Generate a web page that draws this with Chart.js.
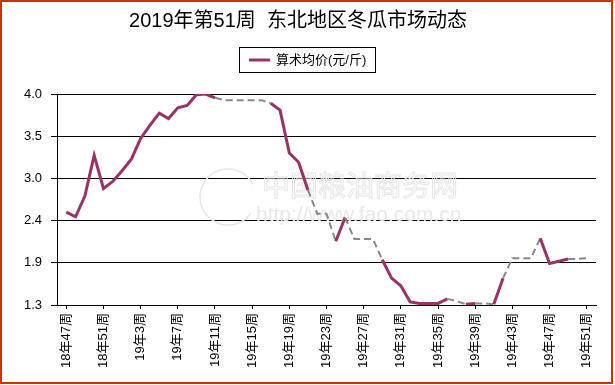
<!DOCTYPE html>
<html>
<head>
<meta charset="utf-8">
<script src="https://cdn.jsdelivr.net/npm/chart.js@4.4.0/dist/chart.umd.min.js"></script>
<style>
    html, body { margin: 0; padding: 0; background: #fff; }
    #box { width: 615px; height: 385px; }
</style>
</head>
<body>
<div id="box"><canvas id="priceChart" width="615" height="385"></canvas></div>
<script>
const weekLabels = [
    '18年47周', '18年48周', '18年49周', '18年50周', '18年51周', '18年52周',
    '19年1周', '19年2周', '19年3周', '19年4周', '19年5周', '19年6周', '19年7周', '19年8周',
    '19年9周', '19年10周', '19年11周', '19年12周', '19年13周', '19年14周', '19年15周', '19年16周',
    '19年17周', '19年18周', '19年19周', '19年20周', '19年21周', '19年22周', '19年23周', '19年24周',
    '19年25周', '19年26周', '19年27周', '19年28周', '19年29周', '19年30周', '19年31周', '19年32周',
    '19年33周', '19年34周', '19年35周', '19年36周', '19年37周', '19年38周', '19年39周', '19年40周',
    '19年41周', '19年42周', '19年43周', '19年44周', '19年45周', '19年46周', '19年47周', '19年48周',
    '19年49周', '19年50周', '19年51周'
];
const avgPrice = [
    2.51, 2.45, 2.72, 3.25, 2.82, 2.91, 3.05, 3.20, 3.47, 3.64, 3.80, 3.73, 3.87, 3.90,
    4.04, 4.05, 4.00, 3.97, 3.97, 3.97, 3.97, 3.97, 3.93, 3.84, 3.28, 3.16, 2.80, 2.49,
    2.49, 2.13, 2.44, 2.16, 2.16, 2.16, 1.89, 1.65, 1.55, 1.34, 1.32, 1.32, 1.32, 1.38,
    1.35, 1.31, 1.32, 1.32, 1.31, 1.65, 1.91, 1.91, 1.91, 2.17, 1.84, 1.87, 1.90, 1.90, 1.91
];
// weeks without a report, drawn as grey dashes
const missingWeeks = [17, 18, 19, 20, 21, 27, 28, 31, 32, 33, 42, 45, 48, 49, 50, 55, 56];
const xTickWeeks = [0, 4, 8, 12, 16, 20, 24, 28, 32, 36, 40, 44, 48, 52, 56];
const yTickValues = [1.3, 1.85, 2.4, 2.95, 3.5, 4.05];
const yTickLabels = ['1.3', '1.9', '2.4', '3.0', '3.5', '4.0'];

const FONT = 'Arial, "Liberation Sans", "Noto Sans CJK SC", sans-serif';

function isMissing(ctx) {
    return missingWeeks.includes(ctx.p0DataIndex) || missingWeeks.includes(ctx.p1DataIndex);
}

const decorPlugin = {
    id: 'decor',
    beforeDatasetsDraw(chart) {
        // faint site watermark
        const c = chart.ctx;
        c.save();
        c.strokeStyle = '#e6e6e6';
        c.lineWidth = 1.5;
        c.beginPath();
        c.arc(228, 197, 28, 0.2 * Math.PI, 1.85 * Math.PI);
        c.stroke();
        c.font = '28px "Noto Sans CJK SC"';
        c.textBaseline = 'middle';
        c.lineWidth = 1;
        c.strokeText('中国粮油商务网', 262, 185);
        c.fillStyle = '#e8e8e8';
        c.font = '21px ' + FONT;
        c.fillText('http://www.fao.com.cn', 256, 215);
        c.restore();
    },
    afterDraw(chart) {
        const c = chart.ctx;
        c.save();
        // legend box
        c.strokeStyle = '#000';
        c.lineWidth = 1;
        c.strokeRect(239.5, 47.5, 136, 25);
        c.strokeStyle = '#993366';
        c.lineWidth = 3;
        c.beginPath();
        c.moveTo(249, 60);
        c.lineTo(270, 60);
        c.stroke();
        c.fillStyle = '#000';
        c.font = '13px ' + FONT;
        c.textBaseline = 'middle';
        c.fillText(chart.data.datasets[0].label, 276, 60);
        // outer frame
        c.strokeStyle = '#cc3300';
        c.lineWidth = 2;
        c.strokeRect(1, 1, 611, 382);
        c.restore();
    }
};

const ctx = document.getElementById('priceChart').getContext('2d');
new Chart(ctx, {
    type: 'line',
    data: {
        datasets: [{
            label: '算术均价(元/斤)',
            data: avgPrice.map((v, i) => ({ x: i, y: v })),
            borderColor: '#993366',
            borderWidth: 3,
            pointRadius: 0,
            tension: 0,
            segment: {
                borderColor: c => isMissing(c) ? '#888888' : undefined,
                borderDash: c => isMissing(c) ? [7, 4] : undefined,
                borderWidth: c => isMissing(c) ? 2 : undefined
            }
        }]
    },
    options: {
        responsive: false,
        animation: false,
        layout: { padding: { left: 0, right: 19, top: 0, bottom: 0 } },
        plugins: {
            legend: { display: false },
            tooltip: { enabled: false },
            title: {
                display: true,
                text: '2019年第51周  东北地区冬瓜市场动态',
                color: '#000',
                font: { family: FONT, size: 20, weight: 'normal' },
                padding: { top: 9, bottom: 61 }
            }
        },
        scales: {
            x: {
                type: 'linear',
                min: -1,
                max: 57,
                afterBuildTicks: scale => { scale.ticks = xTickWeeks.map(v => ({ value: v })); },
                afterFit: scale => { scale.height = 80; },
                grid: { drawOnChartArea: false, drawTicks: true, tickLength: 4, color: '#000' },
                border: { display: true, color: '#000' },
                ticks: {
                    autoSkip: false,
                    maxRotation: 90,
                    minRotation: 90,
                    padding: 4,
                    color: '#000',
                    font: { family: FONT, size: 13 },
                    callback: v => weekLabels[v]
                }
            },
            y: {
                min: 1.3,
                max: 4.05,
                afterBuildTicks: scale => { scale.ticks = yTickValues.map(v => ({ value: v })); },
                afterFit: scale => { scale.width = 57; },
                grid: { color: '#000', tickLength: 6 },
                border: { display: true, color: '#000' },
                ticks: {
                    padding: 9,
                    color: '#000',
                    font: { family: FONT, size: 13 },
                    callback: (v, i) => yTickLabels[i]
                }
            }
        }
    },
    plugins: [decorPlugin]
});
</script>
</body>
</html>
